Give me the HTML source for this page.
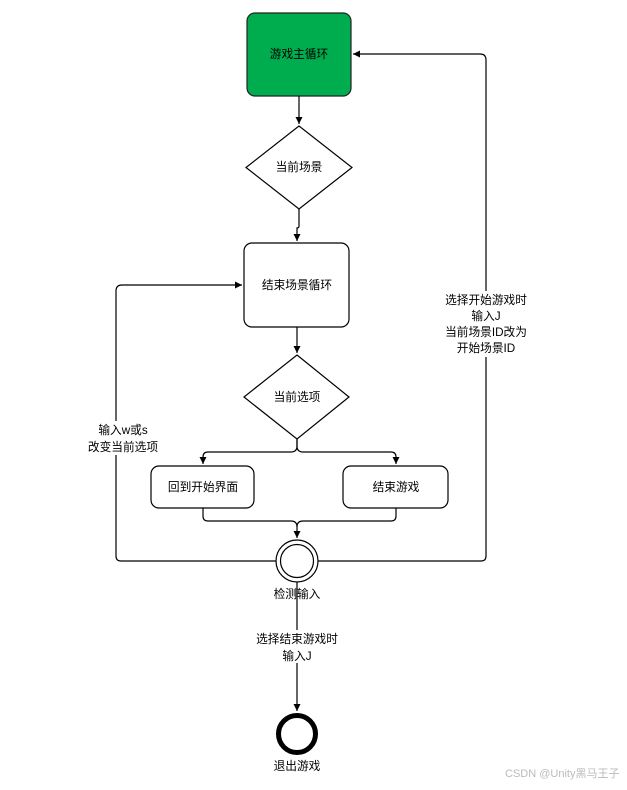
<!DOCTYPE html>
<html><head><meta charset="utf-8"><style>
html,body{margin:0;padding:0;background:#fff;}
svg text{font-family:"Liberation Sans","Noto Sans CJK SC",sans-serif;font-size:11.7px;fill:#000;}
</style></head><body>
<svg width="627" height="785" viewBox="0 0 627 785" xmlns="http://www.w3.org/2000/svg">
<defs><marker id="a" markerWidth="8" markerHeight="8" refX="7" refY="4" orient="auto" markerUnits="userSpaceOnUse"><path d="M0,0.5 L7,4 L0,7.5 Z" fill="#000"/></marker></defs>
<g fill="none" stroke="#000" stroke-width="1.2">
<rect x="247" y="13" width="104" height="83" rx="8" fill="#00AD4E" stroke="#222"/>
<path d="M299,96 V124" marker-end="url(#a)"/>
<polygon points="299,126 352,167.5 299,209 246,167.5" fill="#fff"/>
<path d="M299,209 V226 Q299,228 297,228 V241" marker-end="url(#a)"/>
<rect x="244" y="243" width="105" height="84" rx="8" fill="#fff"/>
<path d="M297,327 V353" marker-end="url(#a)"/>
<polygon points="297,355 349,397 297,439 244,397" fill="#fff"/>
<path d="M297,439 V446 Q297,452 291,452 H208 Q203,452 203,457 V464" marker-end="url(#a)"/>
<path d="M297,439 V446 Q297,452 303,452 H391 Q396,452 396,457 V464" marker-end="url(#a)"/>
<rect x="151" y="466" width="103" height="42" rx="8" fill="#fff"/>
<rect x="343" y="466" width="105" height="42" rx="8" fill="#fff"/>
<path d="M203,508 V516 Q203,521 208,521 H291 Q297,521 297,527 V538" marker-end="url(#a)"/>
<path d="M396,508 V516 Q396,521 391,521 H303 Q297,521 297,527"/>
<circle cx="297" cy="561" r="21"/>
<circle cx="297" cy="561" r="16.5"/>
<path d="M276,561 H121 Q116,561 116,556 V291 Q116,285 122,285 H242" marker-end="url(#a)"/>
<path d="M318,561 H481 Q486,561 486,556 V60 Q486,54 480,54 H353" marker-end="url(#a)"/>
<path d="M297,582 V711" marker-end="url(#a)"/>
<circle cx="297" cy="734" r="18.5" stroke-width="5"/>
</g>
<rect x="252" y="630" width="90" height="33" fill="#fff"/>
<rect x="440" y="291" width="94" height="66" fill="#fff"/>
<rect x="76" y="421" width="94" height="34" fill="#fff"/>
<g text-anchor="middle">
<text x="299" y="58">游戏主循环</text>
<text x="299" y="171">当前场景</text>
<text x="297" y="289">结束场景循环</text>
<text x="297" y="401">当前选项</text>
<text x="203" y="491">回到开始界面</text>
<text x="396" y="491">结束游戏</text>
<text x="297" y="598">检测输入</text>
<text x="297" y="643">选择结束游戏时</text>
<text x="297" y="660">输入J</text>
<text x="297" y="770">退出游戏</text>
<text x="486" y="304">选择开始游戏时</text>
<text x="486" y="320">输入J</text>
<text x="486" y="336">当前场景ID改为</text>
<text x="486" y="352">开始场景ID</text>
<text x="123" y="434">输入w或s</text>
<text x="123" y="451">改变当前选项</text>
</g>
<text x="505" y="777" style="fill:#bbb;font-size:11px">CSDN @Unity黑马王子</text>
</svg>
</body></html>
